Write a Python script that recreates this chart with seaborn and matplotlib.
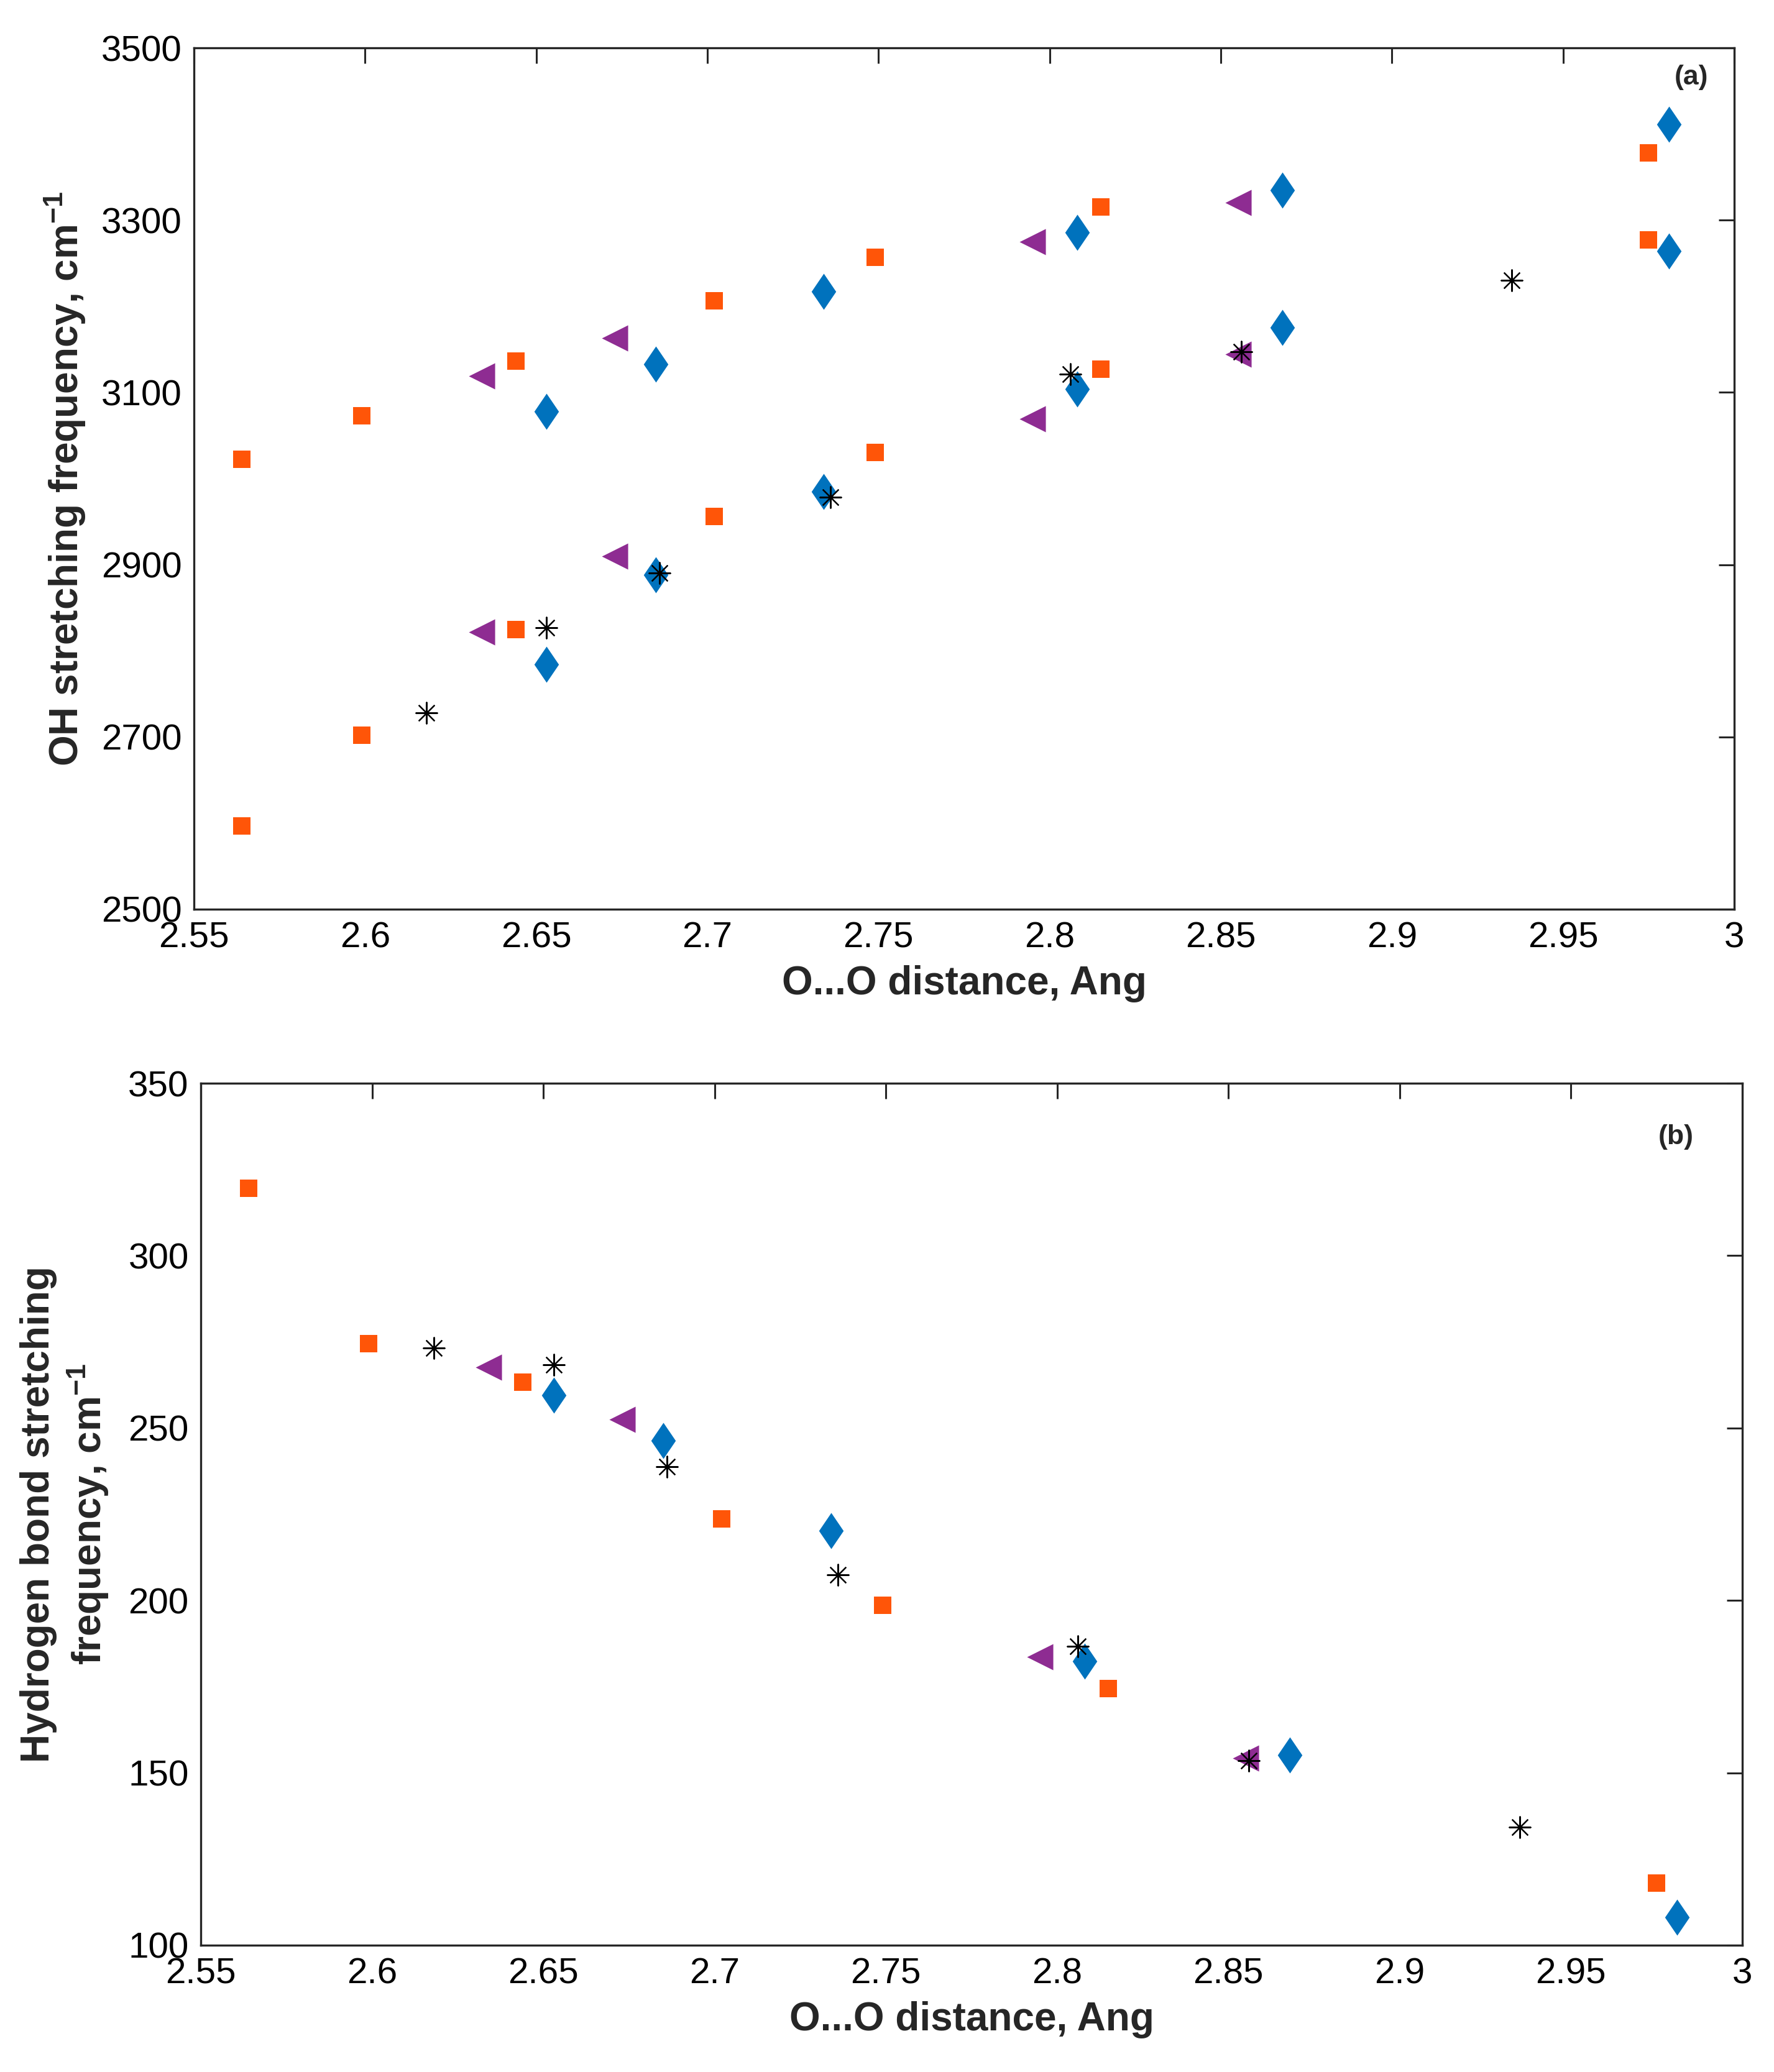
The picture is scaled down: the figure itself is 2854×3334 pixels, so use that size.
import numpy as np
import matplotlib
matplotlib.use("Agg")
import matplotlib.pyplot as plt
from matplotlib.ticker import FuncFormatter
import seaborn as sns

# === Data ===
# O...O distances (Ang) for each series
sq_x = [2.564, 2.599, 2.644, 2.702, 2.749, 2.815, 2.975]
di_x = [2.653, 2.685, 2.734, 2.808, 2.868, 2.981]
tri_x = [2.634, 2.673, 2.795, 2.855]
star_x = [2.618, 2.653, 2.686, 2.736, 2.806, 2.856, 2.935]

# (a) OH stretching frequencies, two bands for the first three series
sq_oh_hi = [3022, 3073, 3136, 3206, 3257, 3315, 3378]
sq_oh_lo = [2597, 2702, 2825, 2956, 3030, 3127, 3277]
di_oh_hi = [3078, 3133, 3217, 3286, 3335, 3411]
di_oh_lo = [2784, 2888, 2985, 3104, 3175, 3264]
tri_oh_hi = [3119, 3163, 3275, 3320]
tri_oh_lo = [2822, 2910, 3069, 3144]
star_oh = [2728, 2827, 2890, 2978, 3121, 3147, 3230]

# (b) hydrogen bond stretching frequencies
sq_hb = [319.6, 274.5, 263.3, 223.7, 198.6, 174.4, 118.1]
di_hb = [259.5, 246.4, 220.2, 182.4, 155.1, 108.1]
tri_hb = [267.6, 252.5, 183.6, 154.3]
star_hb = [273.3, 268.3, 238.7, 207.5, 186.7, 153.5, 134.3]

x_ticks = [2.55, 2.6, 2.65, 2.7, 2.75, 2.8, 2.85, 2.9, 2.95, 3.0]
oh_ticks = [2500, 2700, 2900, 3100, 3300, 3500]
hb_ticks = [100, 150, 200, 250, 300, 350]

# === Style ===
sns.set_theme(style="white")
plt.rcParams["font.family"] = ["Liberation Sans", "DejaVu Sans"]
plt.rcParams["mathtext.fontset"] = "custom"
plt.rcParams["mathtext.bf"] = "Liberation Sans:bold"
plt.rcParams["mathtext.rm"] = "Liberation Sans"

ORANGE = "#FF5508"
BLUE = "#0072BD"
PURPLE = "#8E2C92"
AXCOL = "#262626"

fig = plt.figure(figsize=(14.27, 16.67), dpi=200)
ax_a = fig.add_axes([0.1093, 0.5612, 0.8683, 0.4157])
ax_b = fig.add_axes([0.1132, 0.0612, 0.8689, 0.4160])


def draw_series(ax, x, y, kind):
    if kind == "sq":
        sns.scatterplot(x=x, y=y, ax=ax, marker="s", s=105, color=ORANGE, linewidth=0)
    elif kind == "di":
        pts = sns.scatterplot(x=x, y=y, ax=ax, marker="D", s=140, color=BLUE, linewidth=0)
        # stretch the diamond vertically, like MATLAB's 'd'
        coll = pts.collections[-1]
        from matplotlib.markers import MarkerStyle
        from matplotlib.transforms import Affine2D
        m = MarkerStyle("D")
        path = m.get_path().transformed(m.get_transform() + Affine2D().scale(0.85, 1.25))
        coll.set_paths([path])
    elif kind == "tri":
        sns.scatterplot(x=x, y=y, ax=ax, marker="<", s=230, color=PURPLE, linewidth=0)
    else:
        sns.scatterplot(x=x, y=y, ax=ax, marker=(8, 2, 0), s=150, color="black",
                        linewidth=0.8, edgecolor="black")


# --- panel (a)
for yv in (sq_oh_hi, sq_oh_lo):
    draw_series(ax_a, sq_x, yv, "sq")
for yv in (di_oh_hi, di_oh_lo):
    draw_series(ax_a, di_x, yv, "di")
for yv in (tri_oh_hi, tri_oh_lo):
    draw_series(ax_a, tri_x, yv, "tri")
draw_series(ax_a, star_x, star_oh, "star")

# --- panel (b)
draw_series(ax_b, sq_x, sq_hb, "sq")
draw_series(ax_b, di_x, di_hb, "di")
draw_series(ax_b, tri_x, tri_hb, "tri")
draw_series(ax_b, star_x, star_hb, "star")

fmt = FuncFormatter(lambda v, p: f"{v:g}")
for ax, yt in ((ax_a, oh_ticks), (ax_b, hb_ticks)):
    ax.set_xlim(2.55, 3.0)
    ax.set_ylim(yt[0], yt[-1])
    ax.set_xticks(x_ticks)
    ax.set_yticks(yt)
    ax.xaxis.set_major_formatter(fmt)
    ax.tick_params(direction="in", top=True, right=True, length=9, width=1.1,
                   colors=AXCOL, labelcolor="black", labelsize=21, pad=7)
    for sp in ax.spines.values():
        sp.set_visible(True)
        sp.set_color(AXCOL)
        sp.set_linewidth(1.2)
    ax.set_xlabel("O...O distance, Ang", fontsize=23, fontweight="bold", labelpad=6)

ax_a.set_ylabel(r"OH stretching frequency, cm$\mathbf{^{-1}}$", fontsize=23,
                fontweight="bold", labelpad=8)
ax_b.set_ylabel("Hydrogen bond stretching\n" + r"frequency, cm$\mathbf{^{-1}}$",
                fontsize=23, fontweight="bold", labelpad=10, linespacing=1.25)

ax_a.text(0.972, 0.966, "(a)", transform=ax_a.transAxes, ha="center", va="center",
          fontsize=16, fontweight="bold")
ax_b.text(0.957, 0.938, "(b)", transform=ax_b.transAxes, ha="center", va="center",
          fontsize=16, fontweight="bold")

plt.savefig("out.png", dpi=200)
